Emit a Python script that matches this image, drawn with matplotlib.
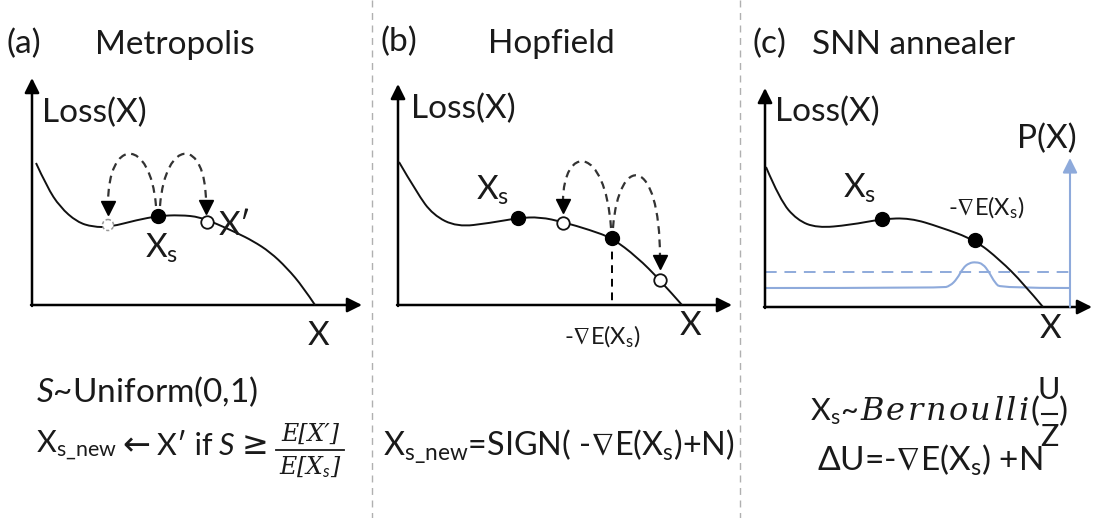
import matplotlib
matplotlib.use('Agg')
import matplotlib.pyplot as plt
from matplotlib.path import Path
from matplotlib.patches import PathPatch, Circle
import numpy as np

plt.rcParams['font.family'] = ['Lato', 'DejaVu Sans']
plt.rcParams['mathtext.fontset'] = 'custom'
plt.rcParams['mathtext.rm'] = 'Lato'
plt.rcParams['mathtext.it'] = 'Lato:italic'
plt.rcParams['mathtext.bf'] = 'Lato:bold'
plt.rcParams['mathtext.fallback'] = 'stixsans'

BLUE = '#8EAADB'
INK = '#1a1a1a'
FS = 24

# panel origins (y axis x position, x axis y position) and axis tips
axes_origin = [(32, 305), (398, 305), (765, 307)]
axes_ytip = [78, 84, 88]
axes_xtip = [362, 732, 1092]

# loss curves (pixel coords)
curve_a = [(36, 163), (47, 187), (60, 207), (77, 222), (93, 227), (110, 227), (137, 220),
           (158, 216), (180, 215), (200, 217), (217, 224), (237, 233), (253, 241),
           (270, 252), (287, 268), (303, 287), (315, 305)]
curve_b = [(399, 162), (417, 193), (433, 215), (457, 227), (490, 223), (518, 218),
           (540, 217), (563, 222), (590, 230), (612, 238), (637, 257), (660, 280), (682, 305)]
curve_c = [(766, 167), (780, 200), (797, 220), (817, 228), (850, 225), (882, 219),
           (910, 218), (940, 227), (975, 240), (1000, 260), (1023, 283), (1043, 307)]

# markers
filled_pts = [(158, 216), (518, 218), (612, 238), (882, 219), (975, 240)]
open_pts = [(207, 222), (563, 223), (660, 280)]
ghost_pts = [(108, 225)]

# dashed jumps: start, arrow tip, peak height
jumps = [((156, 206), (108, 214), 155), ((160, 206), (206, 213), 155),
         ((611, 228), (563, 212), 163), ((613, 228), (660, 268), 177)]

# SNN probability trace
p_dashed_y = 272
p_solid = [(765, 288), (942, 288), (950, 286), (957, 279), (963, 268), (969, 263),
           (976, 262), (983, 264), (989, 272), (995, 283), (1001, 288), (1070, 288)]
p_axis_x = 1070
p_axis_tip = 158


def smooth_path(pts):
    # quadratic bezier through midpoints
    pts = np.asarray(pts, float)
    verts = [pts[0]]
    codes = [Path.MOVETO]
    for i in range(1, len(pts) - 1):
        mid = (pts[i] + pts[i + 1]) / 2 if i < len(pts) - 2 else pts[i + 1]
        verts += [pts[i], mid]
        codes += [Path.CURVE3, Path.CURVE3]
    if len(pts) == 2:
        verts.append(pts[1]); codes.append(Path.LINETO)
    return Path(verts, codes)


fig = plt.figure(figsize=(10.94, 5.18), dpi=100)
ax = fig.add_axes([0, 0, 1, 1])
ax.set_xlim(0, 1094)
ax.set_ylim(518, 0)
ax.axis('off')
renderer = fig.canvas.get_renderer()


def spaced_text(x0, x1, y, s, **kw):
    # letters spread evenly between x0 and x1
    arts, widths = [], []
    for ch in s:
        t = ax.text(0, y, ch, ha='left', **kw)
        arts.append(t)
        widths.append(t.get_window_extent(renderer).width)
    gap = ((x1 - x0) - sum(widths)) / (len(s) - 1)
    x = x0
    for t, w in zip(arts, widths):
        t.set_x(x)
        x += w + gap


def run(x, y, pieces, gap=1):
    # place text pieces one after another
    for s, kw in pieces:
        t = ax.text(x, y, s, ha='left', va='center', **kw)
        x += t.get_window_extent(renderer).width + gap
    return x


# separators
for sx in [372, 740]:
    ax.plot([sx, sx], [0, 518], color='#b0b0b0', lw=1, ls=(0, (5, 4)))

# axes with arrows
for (ox, oy), yt, xt in zip(axes_origin, axes_ytip, axes_xtip):
    ax.annotate('', xy=(ox, yt), xytext=(ox, oy + 1),
                arrowprops=dict(arrowstyle='-|>', color='k', lw=1.8, mutation_scale=22,
                                shrinkA=0, shrinkB=0))
    ax.annotate('', xy=(xt, oy), xytext=(ox - 1, oy),
                arrowprops=dict(arrowstyle='-|>', color='k', lw=1.8, mutation_scale=22,
                                shrinkA=0, shrinkB=0))

# P(X) axis and curves
ax.annotate('', xy=(p_axis_x, p_axis_tip), xytext=(p_axis_x, 307),
            arrowprops=dict(arrowstyle='-|>', color=BLUE, lw=1.5, mutation_scale=22,
                            shrinkA=0, shrinkB=0))
ax.plot([765, p_axis_x], [p_dashed_y, p_dashed_y], color=BLUE, lw=1.4, ls=(0, (6, 4)))
ax.add_patch(PathPatch(smooth_path(p_solid), fill=False, edgecolor=BLUE, lw=1.5))

for c in [curve_a, curve_b, curve_c]:
    ax.add_patch(PathPatch(smooth_path(c), fill=False, edgecolor='#111111', lw=1.4, zorder=3))

# vertical dashed line in (b)
ax.plot([612, 612], [238, 305], color='k', lw=1.4, ls=(0, (4, 3)))

# dashed jump arcs
for (x0, y0), (x3, y3), peak in jumps:
    cy = (peak - (y0 + y3) / 8) * 4 / 3
    yend = y3 - 10
    dx = x3 - x0
    path = Path([(x0, y0), (x0 + 0.12 * dx, cy), (x3, cy), (x3, yend)],
                [Path.MOVETO, Path.CURVE4, Path.CURVE4, Path.CURVE4])
    ax.add_patch(PathPatch(path, fill=False, edgecolor='#333333', lw=1.6,
                           ls=(0, (3.5, 2.5)), zorder=4))
    ax.plot([x3], [y3 - 6], marker='v', color='k', ms=10, zorder=5)

for x, y in filled_pts:
    ax.plot(x, y, 'o', color='k', ms=10, zorder=6)
for x, y in open_pts:
    ax.plot(x, y, 'o', mfc='white', mec='#111111', mew=1.3, ms=9, zorder=6)
for x, y in ghost_pts:
    ax.add_patch(Circle((x, y), 5.5, facecolor='white', edgecolor='#999999', lw=1.1,
                        ls=(0, (2, 1.5)), zorder=6))

txt = dict(fontsize=FS, color=INK, va='center')
small = dict(fontsize=17, color=INK, va='center')
serif_it = dict(style='italic', family='DejaVu Serif', color=INK, va='center')

# headers
ax.text(7, 44, '(a)', ha='left', **txt)
ax.text(95, 45, 'Metropolis', ha='left', **txt)
ax.text(381, 42, '(b)', ha='left', **txt)
ax.text(488, 44, 'Hopfield', ha='left', **txt)
ax.text(752, 44, '(c)', ha='left', **txt)
ax.text(812, 45, 'SNN annealer', ha='left', **txt)

ax.text(42, 113, 'Loss(X)', ha='left', **txt)
ax.text(411, 109, 'Loss(X)', ha='left', **txt)
ax.text(775, 112, 'Loss(X)', ha='left', **txt)
ax.text(1017, 139, 'P(X)', ha='left', **txt)

# point labels
ax.text(162, 248, r'X$_\mathrm{s}$', ha='center', **txt)
ax.text(235, 226, "X′", ha='center', **txt)
ax.text(493, 190, r'X$_\mathrm{s}$', ha='center', **txt)
ax.text(860, 188, r'X$_\mathrm{s}$', ha='center', **txt)
ax.text(986, 208, r'-$\nabla$E(X$_\mathrm{s}$)', ha='center', **small)
ax.text(602, 337, r'-$\nabla$E(X$_\mathrm{s}$)', ha='center', **small)

# axis X labels
ax.text(318, 336, 'X', ha='center', **txt)
ax.text(690, 326, 'X', ha='center', **txt)
ax.text(1050, 329, 'X', ha='center', **txt)

# formulas (a)
ax.text(36, 392, r'$\mathit{S}$~Uniform(0,1)', ha='left', **txt)
f22 = dict(fontsize=22, color=INK)
xe = run(36, 446, [(r'X$_\mathrm{s\_new}$', f22),
                   ('←', dict(fontsize=24, color=INK, family='DejaVu Sans')),
                   ("X′ if", f22),
                   (r'$\mathit{S}$', f22),
                   ('≥', dict(fontsize=23, color=INK, family='DejaVu Sans'))], gap=6)
fc = xe + 36
ax.text(fc, 434, "E[X′]", ha='center', fontsize=17, **serif_it)
ax.plot([fc - 34, fc + 34], [450, 450], color=INK, lw=1.3)
ax.text(fc, 467, r"E[X$_\mathit{s}$]", ha='center', fontsize=17, **serif_it)

# formula (b)
ax.text(383, 446, r'X$_\mathrm{s\_new}$=SIGN( -$\nabla$E(X$_\mathrm{s}$)+N)', ha='left',
        fontsize=23.3, color=INK, va='center')

# formulas (c)
xb = run(810, 412, [(r'X$_\mathrm{s}$~', dict(fontsize=22, color=INK))], gap=2)
spaced_text(xb, 1029, 412, 'Bernoulli', fontsize=23, **serif_it)
ax.text(1030, 412, '(', ha='left', **txt)
ax.text(1049, 390, 'U', ha='center', fontsize=22, color=INK, va='center')
ax.plot([1042, 1057], [414, 414], color=INK, lw=1.5)
ax.text(1049, 437, 'Z', ha='center', fontsize=22, color=INK, va='center')
ax.text(1059, 412, ')', ha='left', **txt)
ax.text(817, 460, r'ΔU=-$\nabla$E(X$_\mathrm{s}$) +N', ha='left', **txt)

fig.savefig('out.png', dpi=100)
